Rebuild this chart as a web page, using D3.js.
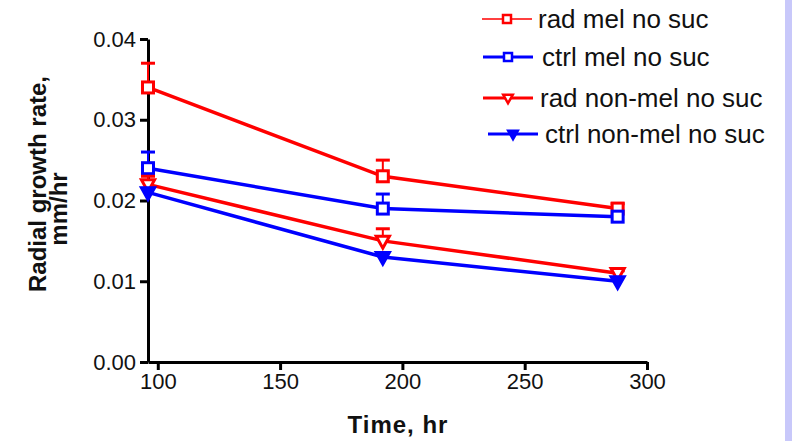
<!DOCTYPE html>
<html>
<head>
<style>
  body { margin: 0; background: #fff; }
  text { font-family: "Liberation Sans", Arial, sans-serif; }
</style>
</head>
<body>
<script src="https://d3js.org/d3.v7.min.js"></script>
<script>

const width = 792;
const height = 441;

const times = [96, 192, 288];
const seriesNames = ['rad mel no suc', 'ctrl mel no suc', 'rad non-mel no suc', 'ctrl non-mel no suc'];
const radMel = [0.034, 0.023, 0.019];
const radMelErr = [0.003, 0.002, 0.0006];
const ctrlMel = [0.024, 0.019, 0.018];
const ctrlMelErr = [0.002, 0.0018, 0];
const radNonMel = [0.022, 0.015, 0.011];
const radNonMelErr = [0.001, 0.0015, 0.0003];
const ctrlNonMel = [0.021, 0.013, 0.010];
const ctrlNonMelErr = [0.0005, 0, 0];
const xTicks = [100, 150, 200, 250, 300];
const yTicks = [0, 0.01, 0.02, 0.03, 0.04];

const series = [
  { name: seriesNames[0], values: radMel, err: radMelErr, color: '#ff0000', shape: 'square' },
  { name: seriesNames[1], values: ctrlMel, err: ctrlMelErr, color: '#0000ff', shape: 'square' },
  { name: seriesNames[2], values: radNonMel, err: radNonMelErr, color: '#ff0000', shape: 'triOpen' },
  { name: seriesNames[3], values: ctrlNonMel, err: ctrlNonMelErr, color: '#0000ff', shape: 'triFill' }
];

const svg = d3.select('body').append('svg')
  .attr('width', width)
  .attr('height', height);

// lavender strip at the right edge
svg.append('rect').attr('x', 785).attr('y', 0).attr('width', 7).attr('height', height).attr('fill', '#c8c8fa');

const x = d3.scaleLinear().domain([96, 300]).range([148, 647]);
const y = d3.scaleLinear().domain([0, 0.04]).range([362, 39]);

const xAxis = svg.append('g')
  .attr('transform', 'translate(0,362)')
  .call(d3.axisBottom(x).tickValues(xTicks).tickSize(8).tickSizeOuter(0).tickPadding(3));
xAxis.select('.domain').attr('stroke-width', 3);
xAxis.selectAll('line').attr('stroke-width', 3);
xAxis.selectAll('text').attr('font-size', 22).attr('fill', '#111');

const yAxis = svg.append('g')
  .attr('transform', 'translate(148,0)')
  .call(d3.axisLeft(y).tickValues(yTicks).tickFormat(d3.format('.2f')).tickSize(8).tickSizeOuter(0).tickPadding(4));
yAxis.select('.domain').attr('stroke-width', 3);
yAxis.selectAll('line').attr('stroke-width', 3);
yAxis.selectAll('text').attr('font-size', 22).attr('fill', '#111');

svg.append('text')
  .attr('x', 398).attr('y', 433)
  .attr('text-anchor', 'middle')
  .attr('font-size', 24).attr('font-weight', 'bold')
  .attr('letter-spacing', 1)
  .attr('fill', '#111')
  .text('Time, hr');

svg.append('text')
  .attr('transform', 'translate(46,184) rotate(-90)')
  .attr('text-anchor', 'middle')
  .attr('font-size', 24).attr('font-weight', 'bold')
  .attr('fill', '#111')
  .text('Radial growth rate,');
svg.append('text')
  .attr('transform', 'translate(67,209) rotate(-90)')
  .attr('text-anchor', 'middle')
  .attr('font-size', 24).attr('font-weight', 'bold')
  .attr('fill', '#111')
  .text('mm/hr');

const line = d3.line().x(d => x(d.t)).y(d => y(d.v));

function drawMarker(g, shape, color, size, sw) {
  if (shape === 'square') {
    g.append('rect')
      .attr('x', -size / 2).attr('y', -size / 2)
      .attr('width', size).attr('height', size)
      .attr('fill', '#fff').attr('stroke', color).attr('stroke-width', sw);
  } else {
    const s = size * 0.6;
    g.append('path')
      .attr('d', `M${-s},${-s * 0.7}L${s},${-s * 0.7}L0,${s * 1.1}Z`)
      .attr('fill', shape === 'triFill' ? color : '#fff')
      .attr('stroke', color).attr('stroke-width', sw);
  }
}

series.forEach(s => {
  const pts = times.map((t, i) => ({ t, v: s.values[i], e: s.err[i] }));
  const g = svg.append('g');

  g.append('path')
    .datum(pts)
    .attr('d', line)
    .attr('fill', 'none')
    .attr('stroke', s.color)
    .attr('stroke-width', 3.5);

  pts.filter(p => p.e > 0).forEach(p => {
    g.append('line')
      .attr('x1', x(p.t)).attr('x2', x(p.t))
      .attr('y1', y(p.v)).attr('y2', y(p.v + p.e))
      .attr('stroke', s.color).attr('stroke-width', 2);
    g.append('line')
      .attr('x1', x(p.t) - 7).attr('x2', x(p.t) + 7)
      .attr('y1', y(p.v + p.e)).attr('y2', y(p.v + p.e))
      .attr('stroke', s.color).attr('stroke-width', 3);
  });

  pts.forEach(p => {
    drawMarker(g.append('g').attr('transform', `translate(${x(p.t)},${y(p.v)})`), s.shape, s.color, 11, 3);
  });
});

// legend
const legendY = [19, 57, 98, 134];
const legendX = [482, 483, 483, 488];
const legendTextX = [538, 542, 540, 545];
series.forEach((s, i) => {
  const g = svg.append('g').attr('transform', `translate(${legendX[i]},${legendY[i]})`);
  g.append('line')
    .attr('x1', 0).attr('x2', 50).attr('y1', 0).attr('y2', 0)
    .attr('stroke', s.color).attr('stroke-width', i === 0 ? 1.5 : 3);
  drawMarker(g.append('g').attr('transform', 'translate(25,0)'), s.shape, s.color, 8, 2.5);
  g.append('text')
    .attr('x', legendTextX[i] - legendX[i]).attr('y', 9)
    .attr('font-size', 26).attr('fill', '#111')
    .text(s.name);
});

</script>
</body>
</html>
